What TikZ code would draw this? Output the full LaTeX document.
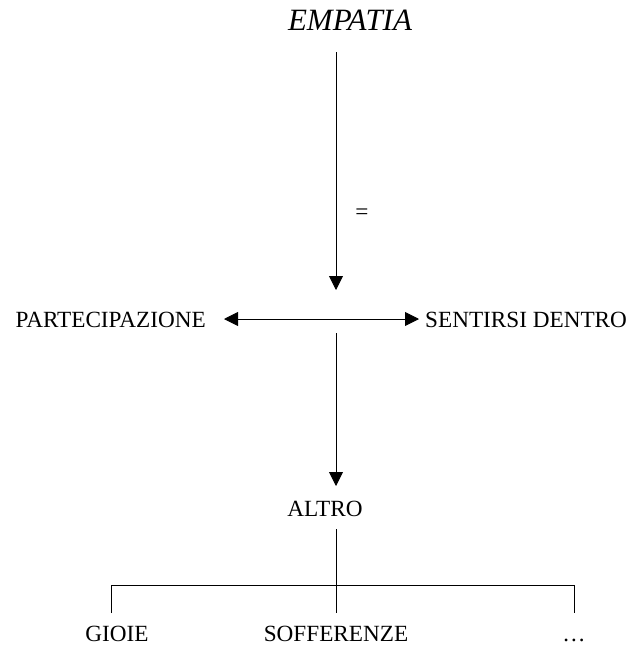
\documentclass[tikz,border=0pt]{standalone}
\usepackage{fontspec}
\setmainfont{Liberation Serif}
\usetikzlibrary{arrows.meta}
\begin{document}
\begin{tikzpicture}[x=1pt,y=-1pt,
  lbl/.style={inner sep=0pt, anchor=base, font=\fontsize{23.2}{27}\selectfont},
  ln/.style={line width=0.9pt},
  arr/.style={ln, -{Triangle[length=14pt,width=14pt]}},
  darr/.style={ln, {Triangle[length=14pt,width=14pt]}-{Triangle[length=14pt,width=14pt]}}]
\useasboundingbox (0,0) rectangle (629,654);
% texts
\node[lbl, font=\fontsize{31}{34}\selectfont\itshape] (emp) at (350,30) {EMPATIA};
\node[lbl] (eq) at (362,219) {=};
\node[lbl, anchor=base east] (part) at (206,327) {PARTECIPAZIONE};
\node[lbl, anchor=base west] (sent) at (425,327) {SENTIRSI DENTRO};
\node[lbl] (altro) at (325,516) {ALTRO};
\node[lbl] (gioie) at (117,641) {GIOIE};
\node[lbl] (soff) at (336,641) {SOFFERENZE};
\node[lbl] (dots) at (574,641) {\dots};
% coordinates
\coordinate (a1) at (336,52);
\coordinate (a2) at (336,290);
\coordinate (h1) at (224,319);
\coordinate (h2) at (419,319);
\coordinate (b1) at (336,333);
\coordinate (b2) at (336,486);
\coordinate (c1) at (336,529);
\coordinate (j) at (336,585);
\coordinate (jl) at (111,585);
\coordinate (jr) at (574,585);
\coordinate (gl) at (111,613);
\coordinate (gm) at (336,613);
\coordinate (gr) at (574,613);
% connectors
\draw[arr] (a1) -- (a2);
\draw[darr] (h1) -- (h2);
\draw[arr] (b1) -- (b2);
\draw[ln] (c1) -- (j);
\draw[ln] (gl) -- (jl) -- (jr) -- (gr);
\draw[ln] (j) -- (gm);
\end{tikzpicture}
\end{document}
